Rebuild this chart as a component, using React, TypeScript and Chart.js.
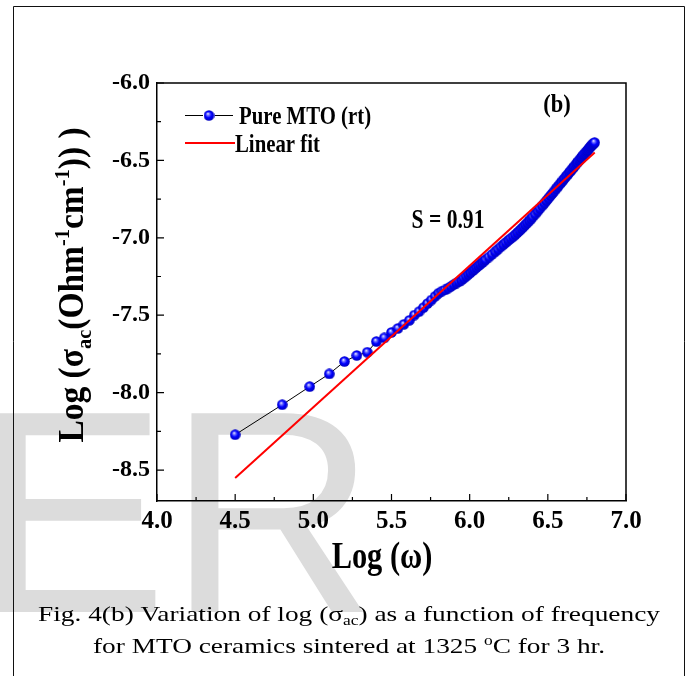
import React, { useEffect, useRef } from "react";
import { Chart, registerables } from "chart.js";

Chart.register(...registerables);

// ---- data ----
const xTicks = [4.0, 4.5, 5.0, 5.5, 6.0, 6.5, 7.0];
const xMinorTicks = [4.25, 4.75, 5.25, 5.75, 6.25, 6.75];
const yTicks = [-6.0, -6.5, -7.0, -7.5, -8.0, -8.5];
const yMinorTicks = [-6.25, -6.75, -7.25, -7.75, -8.25];

const logOmega = [
  4.5, 4.801, 4.977, 5.102, 5.199, 5.278, 5.345, 5.403, 5.454, 5.5,
  5.541, 5.579, 5.614, 5.646, 5.676, 5.704, 5.73, 5.755, 5.779, 5.801,
  5.822, 5.842, 5.862, 5.88, 5.898, 5.915, 5.931, 5.947, 5.962, 5.977,
  5.991, 6.005, 6.019, 6.031, 6.044, 6.056, 6.068, 6.08, 6.091, 6.102,
  6.123, 6.143, 6.163, 6.181, 6.199, 6.216, 6.232, 6.248, 6.263, 6.278,
  6.292, 6.306, 6.32, 6.333, 6.345, 6.357, 6.369, 6.381, 6.392, 6.403,
  6.419, 6.435, 6.449, 6.464, 6.478, 6.491, 6.504, 6.517, 6.529, 6.541,
  6.553, 6.564, 6.576, 6.586, 6.597, 6.607, 6.617, 6.627, 6.637, 6.646,
  6.655, 6.664, 6.673, 6.682, 6.69, 6.699, 6.707, 6.715, 6.723, 6.73,
  6.738, 6.746, 6.753, 6.76, 6.767, 6.774, 6.781, 6.788, 6.794, 6.799,
];
const logSigma = [
  -8.272, -8.078, -7.961, -7.879, -7.799, -7.76, -7.739, -7.67, -7.646, -7.611,
  -7.585, -7.559, -7.533, -7.499, -7.477, -7.451, -7.425, -7.402, -7.378, -7.358,
  -7.345, -7.337, -7.325, -7.314, -7.302, -7.292, -7.283, -7.273, -7.261, -7.249,
  -7.236, -7.225, -7.212, -7.202, -7.191, -7.18, -7.171, -7.16, -7.15, -7.141,
  -7.124, -7.107, -7.09, -7.074, -7.058, -7.044, -7.03, -7.016, -7.004, -6.992,
  -6.979, -6.966, -6.953, -6.94, -6.928, -6.915, -6.903, -6.89, -6.878, -6.865,
  -6.847, -6.828, -6.811, -6.793, -6.776, -6.76, -6.744, -6.728, -6.713, -6.698,
  -6.683, -6.669, -6.654, -6.642, -6.628, -6.616, -6.603, -6.591, -6.578, -6.567,
  -6.556, -6.545, -6.534, -6.522, -6.512, -6.501, -6.491, -6.481, -6.471, -6.462,
  -6.453, -6.444, -6.436, -6.427, -6.419, -6.41, -6.402, -6.395, -6.389, -6.385,
];
const fitX = [4.5, 6.8];
const fitY = [-8.552, -6.449];

const seriesName = "Pure MTO (rt)";
const fitName = "Linear fit";
const slopeLabel = "S = 0.91";
const panelLabel = "(b)";

const SERIF = '"Liberation Serif", "Times New Roman", Times, serif';
const SANS = '"Liberation Sans", Arial, sans-serif';

type Seg = { text: string; size: number; bold?: boolean; dy?: number };

function fontOf(s: Seg) {
  return `${s.bold ? "bold " : ""}${s.size}px ${SERIF}`;
}

function drawRich(
  ctx: CanvasRenderingContext2D,
  segs: Seg[],
  x: number,
  y: number,
  opts: { sx?: number; rot?: number; align?: string; fitWidth?: number; color?: string }
) {
  const widths = segs.map((s) => {
    ctx.font = fontOf(s);
    return ctx.measureText(s.text).width;
  });
  const total = widths.reduce((a, b) => a + b, 0);
  let sx = opts.sx ?? 1;
  if (opts.fitWidth) sx = opts.fitWidth / total;
  ctx.save();
  ctx.translate(x, y);
  if (opts.rot) ctx.rotate(opts.rot);
  ctx.scale(sx, 1);
  let cx = opts.align === "center" ? -total / 2 : opts.align === "right" ? -total : 0;
  ctx.textBaseline = "alphabetic";
  ctx.textAlign = "left";
  ctx.fillStyle = opts.color || "#000";
  segs.forEach((s, i) => {
    ctx.font = fontOf(s);
    ctx.fillText(s.text, cx, s.dy || 0);
    cx += widths[i];
  });
  ctx.restore();
}

function makeSphere(d: number) {
  const c = document.createElement("canvas");
  c.width = d;
  c.height = d;
  const g = c.getContext("2d")!;
  const r = d / 2;
  const grad = g.createRadialGradient(r - 1.2, r - 1.8, 0.2, r, r, r);
  grad.addColorStop(0, "#e8e8ff");
  grad.addColorStop(0.25, "#6a6aff");
  grad.addColorStop(0.55, "#0000ff");
  grad.addColorStop(1, "#0000b8");
  g.fillStyle = grad;
  g.beginPath();
  g.arc(r, r, r - 0.2, 0, Math.PI * 2);
  g.fill();
  return c;
}

export default function App() {
  const ref = useRef<HTMLCanvasElement | null>(null);

  useEffect(() => {
    const canvas = ref.current!;
    const sphere = makeSphere(11);

    const decor = {
      id: "decor",
      beforeDraw(chart: any) {
        const ctx = chart.ctx as CanvasRenderingContext2D;
        ctx.save();
        ctx.fillStyle = "#fff";
        ctx.fillRect(0, 0, chart.width, chart.height);
        ctx.font = `289px ${SANS}`;
        ctx.fillStyle = "#dcdcdc";
        ctx.textBaseline = "alphabetic";
        ctx.textAlign = "left";
        ctx.fillText("ER", -25, 612);
        ctx.restore();
      },
      afterDraw(chart: any) {
        const ctx = chart.ctx as CanvasRenderingContext2D;
        const a = chart.chartArea;
        const xs = chart.scales.x;
        const ys = chart.scales.y;
        ctx.save();
        // top & right borders
        ctx.strokeStyle = "#000";
        ctx.lineWidth = 1.5;
        ctx.beginPath();
        ctx.moveTo(a.left, a.top);
        ctx.lineTo(a.right, a.top);
        ctx.lineTo(a.right, a.bottom);
        ctx.stroke();
        // inward ticks
        ctx.lineWidth = 1.2;
        ctx.beginPath();
        xTicks.forEach((v) => {
          const p = xs.getPixelForValue(v);
          ctx.moveTo(p, a.bottom);
          ctx.lineTo(p, a.bottom - 7);
        });
        xMinorTicks.forEach((v) => {
          const p = xs.getPixelForValue(v);
          ctx.moveTo(p, a.bottom);
          ctx.lineTo(p, a.bottom - 4);
        });
        yTicks.forEach((v) => {
          const p = ys.getPixelForValue(v);
          ctx.moveTo(a.left, p);
          ctx.lineTo(a.left + 7, p);
        });
        yMinorTicks.forEach((v) => {
          const p = ys.getPixelForValue(v);
          ctx.moveTo(a.left, p);
          ctx.lineTo(a.left + 4, p);
        });
        ctx.stroke();

        // legend
        ctx.strokeStyle = "#000";
        ctx.lineWidth = 1;
        ctx.beginPath();
        ctx.moveTo(185, 115.5);
        ctx.lineTo(203, 115.5);
        ctx.moveTo(215, 115.5);
        ctx.lineTo(233, 115.5);
        ctx.stroke();
        ctx.drawImage(sphere, 209 - 5.5, 115.5 - 5.5);
        drawRich(ctx, [{ text: seriesName, size: 26, bold: true }], 239, 124, { sx: 0.8 });
        ctx.strokeStyle = "#ff0000";
        ctx.lineWidth = 2;
        ctx.beginPath();
        ctx.moveTo(185, 143);
        ctx.lineTo(235, 143);
        ctx.stroke();
        drawRich(ctx, [{ text: fitName, size: 26, bold: true }], 235, 152, { sx: 0.8 });

        // annotations
        drawRich(ctx, [{ text: panelLabel, size: 25, bold: true }], 557, 112, { sx: 0.9, align: "center" });
        drawRich(ctx, [{ text: slopeLabel, size: 27, bold: true }], 448, 228, { sx: 0.8, align: "center" });

        // axis titles
        drawRich(
          ctx,
          [
            { text: "Log (σ", size: 36, bold: true },
            { text: "ac", size: 22, bold: true, dy: 8 },
            { text: "(Ohm", size: 36, bold: true },
            { text: "-1", size: 22, bold: true, dy: -14 },
            { text: "cm", size: 36, bold: true },
            { text: "-1", size: 22, bold: true, dy: -14 },
            { text: ")) )", size: 36, bold: true },
          ],
          83,
          285,
          { sx: 0.93, rot: -Math.PI / 2, align: "center" }
        );
        drawRich(ctx, [{ text: "Log (ω)", size: 38, bold: true }], 382, 568, { sx: 0.8, align: "center" });

        // caption
        drawRich(
          ctx,
          [
            { text: "Fig. 4(b) Variation of log (σ", size: 22 },
            { text: "ac", size: 14, dy: 4 },
            { text: ") as a function of frequency", size: 22 },
          ],
          38,
          621,
          { fitWidth: 622 }
        );
        drawRich(
          ctx,
          [
            { text: "for MTO ceramics sintered at 1325 ", size: 22 },
            { text: "o", size: 14, dy: -8 },
            { text: "C for 3 hr.", size: 22 },
          ],
          93,
          653,
          { fitWidth: 512 }
        );

        // outer frame
        ctx.strokeStyle = "#111";
        ctx.lineWidth = 1;
        ctx.beginPath();
        ctx.moveTo(13.5, 700);
        ctx.lineTo(13.5, 6.5);
        ctx.lineTo(684.5, 6.5);
        ctx.lineTo(684.5, 700);
        ctx.stroke();
        ctx.restore();
      },
    };

    const tickFont = (size: number) => ({ family: SERIF, size, weight: "bold" as const });

    const chart = new Chart(canvas, {
      type: "scatter",
      data: {
        datasets: [
          {
            label: fitName,
            data: fitX.map((x, i) => ({ x, y: fitY[i] })),
            showLine: true,
            borderColor: "#ff0000",
            borderWidth: 2,
            pointRadius: 0,
            order: 0,
          },
          {
            label: seriesName,
            data: logOmega.map((x, i) => ({ x, y: logSigma[i] })),
            showLine: true,
            borderColor: "#000",
            borderWidth: 1,
            pointStyle: sphere as any,
            pointRadius: 5.5,
            pointHoverRadius: 5.5,
            order: 1,
          },
        ],
      },
      options: {
        responsive: false,
        animation: false,
        devicePixelRatio: 1,
        events: [],
        layout: { padding: { top: 83, right: 62, left: 0, bottom: 0 } },
        plugins: { legend: { display: false }, tooltip: { enabled: false } },
        scales: {
          x: {
            type: "linear",
            min: 4,
            max: 7,
            afterBuildTicks: (s: any) => {
              s.ticks = xTicks.map((v) => ({ value: v }));
            },
            afterFit: (s: any) => {
              s.height = 175;
            },
            ticks: {
              callback: (v: any) => Number(v).toFixed(1),
              font: tickFont(25),
              color: "#000",
              padding: 6,
              maxRotation: 0,
              autoSkip: false,
            },
            grid: { display: false, drawTicks: false },
            border: { display: true, color: "#000", width: 1.5 },
          },
          y: {
            type: "linear",
            min: -8.7,
            max: -6.0,
            afterBuildTicks: (s: any) => {
              s.ticks = yTicks.map((v) => ({ value: v }));
            },
            afterFit: (s: any) => {
              s.width = 157;
            },
            ticks: {
              callback: (v: any) => Number(v).toFixed(1),
              font: tickFont(24),
              color: "#000",
              padding: 7,
              autoSkip: false,
            },
            grid: { display: false, drawTicks: false },
            border: { display: true, color: "#000", width: 1.5 },
          },
        },
      },
      plugins: [decor],
    });

    return () => chart.destroy();
  }, []);

  return (
    <div style={{ position: "absolute", left: 0, top: 0, width: 688, height: 676 }}>
      <canvas ref={ref} width={688} height={676} />
    </div>
  );
}
